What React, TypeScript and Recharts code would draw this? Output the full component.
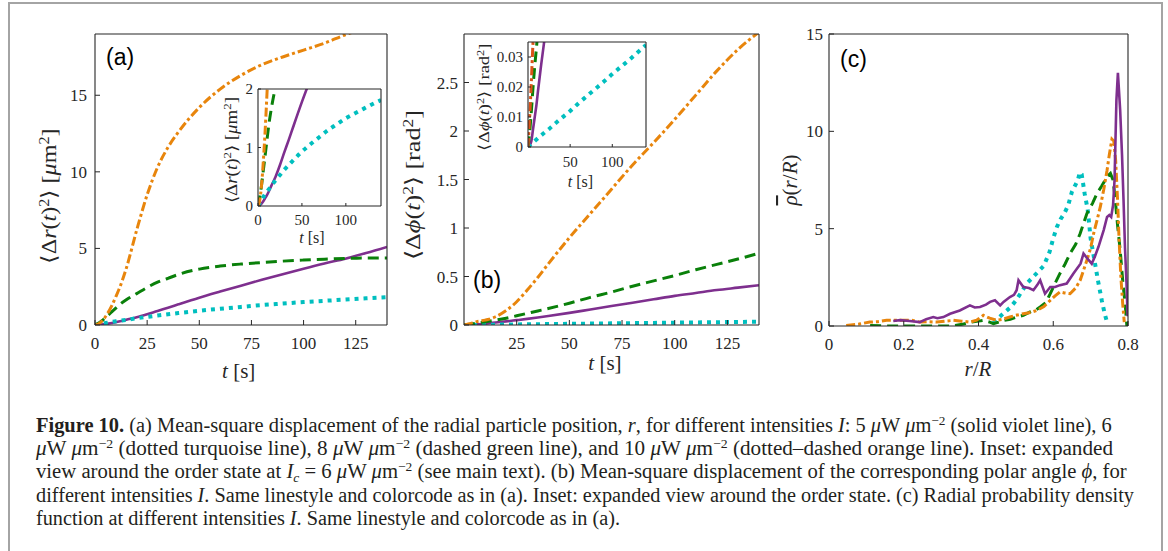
import React from 'react';
import { LineChart, Line, XAxis, YAxis, CartesianGrid } from 'recharts';

const SERIF = '"Liberation Serif", "Times New Roman", Times, serif';
const SANS = '"Liberation Sans", Arial, Helvetica, sans-serif';
const AX = '#262626';

const VIOLET = '#7E2F8E';
const TURQ = '#00BFBF';
const GREEN = '#0A800A';
const ORANGE = '#E8850C';
const RED_ORANGE = '#D95319';

// ---------- panel (a): radial MSD ----------
const tA = [0, 2, 4, 6, 8, 10, 12, 15, 20, 25, 30, 35, 40, 50, 60, 70, 80, 90, 100, 110, 120, 130, 140];
const msdR5 = [0, 0.01, 0.04, 0.08, 0.13, 0.18, 0.24, 0.34, 0.5, 0.7, 0.92, 1.13, 1.35, 1.78, 2.18, 2.57, 2.95, 3.32, 3.68, 4.02, 4.33, 4.7, 5.1];
const msdR6 = [0, 0.05, 0.1, 0.15, 0.2, 0.24, 0.28, 0.34, 0.44, 0.53, 0.62, 0.7, 0.78, 0.93, 1.06, 1.18, 1.3, 1.4, 1.5, 1.58, 1.66, 1.74, 1.81];
const msdR8 = [0, 0.15, 0.35, 0.6, 0.85, 1.1, 1.35, 1.65, 2.05, 2.45, 2.8, 3.05, 3.3, 3.65, 3.85, 3.98, 4.08, 4.17, 4.24, 4.3, 4.35, 4.37, 4.38];
const msdR10 = [0, 0.1, 0.35, 0.75, 1.25, 1.85, 2.5, 3.7, 6.2, 8.5, 10.3, 11.6, 12.6, 14.2, 15.4, 16.3, 17.0, 17.5, 17.95, 18.4, 18.95, 19.4, 19.8];

// ---------- panel (b): polar-angle MSD ----------
const tB = [0, 2, 4, 6, 8, 10, 12, 15, 20, 25, 30, 35, 40, 50, 60, 70, 80, 90, 100, 110, 120, 130, 140];
const msdPhi5 = [0, 0.0005, 0.002, 0.006, 0.01, 0.014, 0.019, 0.026, 0.037, 0.05, 0.063, 0.077, 0.092, 0.125, 0.16, 0.195, 0.23, 0.265, 0.3, 0.33, 0.36, 0.385, 0.41];
const msdPhi6 = [0, 0.0005, 0.001, 0.0015, 0.002, 0.0025, 0.003, 0.0037, 0.0049, 0.006, 0.0073, 0.0085, 0.0097, 0.012, 0.0146, 0.017, 0.0194, 0.0218, 0.0243, 0.0267, 0.029, 0.0315, 0.034];
const msdPhi8 = [0, 0.005, 0.012, 0.02, 0.027, 0.033, 0.04, 0.05, 0.07, 0.095, 0.12, 0.145, 0.17, 0.225, 0.285, 0.34, 0.4, 0.455, 0.51, 0.57, 0.625, 0.68, 0.74];
const msdPhi10 = [0, 0.01, 0.022, 0.035, 0.042, 0.05, 0.06, 0.085, 0.15, 0.24, 0.36, 0.49, 0.63, 0.9, 1.15, 1.4, 1.65, 1.88, 2.12, 2.37, 2.62, 2.84, 3.02];

// ---------- panel (c): radial probability density ----------
const rC5 = [0.172, 0.19, 0.216, 0.243, 0.26, 0.279, 0.29, 0.306, 0.324, 0.35, 0.377, 0.39, 0.404, 0.42, 0.431, 0.444, 0.458, 0.467, 0.484, 0.495, 0.502, 0.507, 0.52, 0.535, 0.547, 0.557, 0.565, 0.578, 0.592, 0.605, 0.618, 0.636, 0.654, 0.673, 0.681, 0.695, 0.703, 0.712, 0.721, 0.735, 0.744, 0.75, 0.755, 0.76, 0.764, 0.769, 0.773, 0.779, 0.784, 0.788, 0.792, 0.796, 0.799];
const rho5 = [0.26, 0.3, 0.26, 0.2, 0.35, 0.46, 0.4, 0.46, 0.63, 0.8, 1.06, 0.95, 0.98, 1.1, 1.24, 1.32, 1.06, 1.24, 1.49, 1.6, 1.84, 2.35, 2.0, 1.95, 1.84, 2.1, 2.35, 1.66, 2.0, 2.0, 2.1, 2.18, 2.7, 3.2, 3.72, 3.38, 3.2, 3.6, 4.07, 4.93, 5.6, 5.7, 5.6, 6.2, 7.5, 11.6, 13.0, 11.1, 8.8, 6.5, 4.0, 2.2, 0.5];
const rC6 = [0.44, 0.455, 0.47, 0.485, 0.5, 0.515, 0.53, 0.545, 0.56, 0.575, 0.59, 0.6, 0.61, 0.62, 0.63, 0.64, 0.65, 0.658, 0.666, 0.671, 0.676, 0.684, 0.692, 0.7, 0.71, 0.72, 0.73, 0.738, 0.744];
const rho6 = [0.15, 0.45, 0.7, 0.95, 1.3, 1.75, 2.2, 2.5, 2.8, 3.1, 3.8, 4.5, 5.1, 5.5, 5.8, 6.2, 6.9, 7.2, 7.5, 7.9, 7.8, 6.8, 6.0, 4.5, 3.4, 2.3, 1.3, 0.6, 0.2];
const rC8 = [0.11, 0.16, 0.2, 0.25, 0.3, 0.33, 0.36, 0.38, 0.4, 0.413, 0.43, 0.44, 0.455, 0.467, 0.485, 0.502, 0.52, 0.538, 0.555, 0.565, 0.58, 0.592, 0.605, 0.618, 0.632, 0.645, 0.66, 0.672, 0.69, 0.705, 0.717, 0.73, 0.744, 0.753, 0.76, 0.766, 0.772, 0.779, 0.786, 0.793, 0.797];
const rho8 = [0.03, 0.0, 0.0, 0.0, 0.0, 0.0, 0.1, 0.2, 0.25, 0.29, 0.2, 0.12, 0.2, 0.29, 0.35, 0.46, 0.55, 0.72, 0.85, 0.98, 1.2, 1.66, 2.2, 2.7, 3.2, 3.72, 4.2, 4.75, 5.78, 6.3, 6.81, 7.2, 7.67, 7.84, 7.5, 6.47, 5.2, 3.9, 2.3, 0.98, 0.0];
const rC10 = [0.046, 0.08, 0.109, 0.13, 0.154, 0.18, 0.198, 0.22, 0.243, 0.265, 0.288, 0.31, 0.333, 0.355, 0.377, 0.395, 0.413, 0.43, 0.449, 0.465, 0.484, 0.5, 0.52, 0.54, 0.556, 0.575, 0.592, 0.605, 0.618, 0.63, 0.645, 0.66, 0.672, 0.68, 0.69, 0.7, 0.708, 0.718, 0.726, 0.735, 0.744, 0.75, 0.757, 0.762, 0.767, 0.772, 0.776, 0.781, 0.786, 0.79];
const rho10 = [0.03, 0.1, 0.2, 0.22, 0.29, 0.3, 0.29, 0.3, 0.2, 0.22, 0.2, 0.25, 0.29, 0.25, 0.2, 0.3, 0.55, 0.4, 0.29, 0.35, 0.46, 0.55, 0.63, 0.7, 0.8, 1.0, 1.32, 1.55, 1.75, 1.7, 1.66, 1.95, 2.35, 2.8, 3.38, 4.0, 4.75, 5.5, 6.13, 7.0, 8.0, 8.8, 9.6, 9.5, 8.5, 6.5, 4.5, 2.5, 1.1, 0.2];

// ---------- ticks ----------
const ticksAx = [0, 25, 50, 75, 100, 125];
const ticksAy = [0, 5, 10, 15];
const ticksBx = [25, 50, 75, 100, 125];
const ticksBy = [0, 0.5, 1, 1.5, 2, 2.5];
const ticksCx = [0, 0.2, 0.4, 0.6, 0.8];
const ticksCy = [0, 5, 10, 15];
const ticksInsetAx = [0, 50, 100];
const ticksInsetAy = [0, 1, 2];
const ticksInsetBx = [50, 100];
const ticksInsetBy = [0, 0.01, 0.02, 0.03];

const pts = (xs: number[], ys: number[]) => xs.map((x, i) => ({ x, y: ys[i] }));

type Sty = { stroke: string; strokeWidth: number; strokeDasharray?: string };
const S_VIOLET: Sty = { stroke: VIOLET, strokeWidth: 2.6 };
const S_TURQ: Sty = { stroke: TURQ, strokeWidth: 4, strokeDasharray: '4 5' };
const S_GREEN: Sty = { stroke: GREEN, strokeWidth: 3, strokeDasharray: '11 6' };
const S_ORANGE: Sty = { stroke: ORANGE, strokeWidth: 3, strokeDasharray: '9 3 3 3' };

type Series = { data: { x: number; y: number }[]; sty: Sty };

type PanelProps = {
  left: number; top: number; plotW: number; plotH: number;
  yw: number; xh: number; mt: number; mr: number;
  xDomain: [number, number]; yDomain: [number, number];
  xTicks: number[]; yTicks: number[];
  series: Series[]; fs: number; xtm: number; ytm: number; ts: number;
  bg?: boolean; curve: 'monotone' | 'linear';
};

function Panel(p: PanelProps) {
  // mirrored top / right axes take 1px each (a 0-size axis is not drawn)
  const w = p.yw + p.plotW + p.mr + 1;
  const h = p.mt + p.plotH + p.xh;
  const tickStyle = { fill: AX, fontSize: p.fs, fontFamily: SERIF };
  const axisLine = { stroke: AX, strokeWidth: 1.1 };
  return (
    <div style={{ position: 'absolute', left: p.left - p.yw, top: p.top - p.mt }}>
      <LineChart width={w} height={h} margin={{ top: p.mt - 1, right: p.mr, bottom: 0, left: 0 }}>
        {p.bg ? <CartesianGrid fill="#ffffff" fillOpacity={1} horizontal={false} vertical={false} /> : null}
        <XAxis dataKey="x" type="number" domain={p.xDomain} ticks={p.xTicks} interval={0} allowDataOverflow
          height={p.xh} tickSize={-p.ts} tickMargin={p.xtm} stroke={AX} axisLine={axisLine} tick={tickStyle} />
        <XAxis xAxisId="top" orientation="top" dataKey="x" type="number" domain={p.xDomain} ticks={p.xTicks} interval={0}
          allowDataOverflow height={1} tickSize={-p.ts} tick={false} stroke={AX} axisLine={axisLine} />
        <YAxis type="number" domain={p.yDomain} ticks={p.yTicks} interval={0} allowDataOverflow
          width={p.yw} tickSize={-p.ts} tickMargin={p.ytm} stroke={AX} axisLine={axisLine} tick={tickStyle} />
        <YAxis yAxisId="right" orientation="right" type="number" domain={p.yDomain} ticks={p.yTicks} interval={0}
          allowDataOverflow width={1} tickSize={-p.ts} tick={false} stroke={AX} axisLine={axisLine} />
        {/* invisible carrier so the mirrored (top/right) box axes are registered */}
        <Line xAxisId="top" yAxisId="right" data={p.series[0].data} dataKey="y" stroke="none" strokeWidth={0}
          dot={false} activeDot={false} legendType="none" isAnimationActive={false} />
        {p.series.map((s, i) => (
          <Line key={i} data={s.data} dataKey="y" type={p.curve} stroke={s.sty.stroke}
            strokeWidth={s.sty.strokeWidth} strokeDasharray={s.sty.strokeDasharray}
            dot={false} activeDot={false} isAnimationActive={false} />
        ))}
      </LineChart>
    </div>
  );
}

const It = ({ c }: { c: string }) => <tspan fontStyle="italic">{c}</tspan>;
const Sup = ({ c, fs }: { c: string; fs: number }) => (
  <tspan baselineShift="super" fontSize={fs}>{c}</tspan>
);
const Unit = () => (
  <>
    <It c="μ" />W <It c="μ" />m<Sup c="−2" fs={13} />
  </>
);

export default function App() {
  const seriesA: Series[] = [
    { data: pts(tA, msdR5), sty: S_VIOLET },
    { data: pts(tA, msdR6), sty: S_TURQ },
    { data: pts(tA, msdR8), sty: S_GREEN },
    { data: pts(tA, msdR10), sty: S_ORANGE },
  ];
  const seriesB: Series[] = [
    { data: pts(tB, msdPhi5), sty: S_VIOLET },
    { data: pts(tB, msdPhi6), sty: S_TURQ },
    { data: pts(tB, msdPhi8), sty: S_GREEN },
    { data: pts(tB, msdPhi10), sty: S_ORANGE },
  ];
  const seriesBInset: Series[] = [
    { data: pts(tB, msdPhi5), sty: S_VIOLET },
    { data: pts(tB, msdPhi6), sty: S_TURQ },
    { data: pts(tB, msdPhi8), sty: S_GREEN },
    { data: pts(tB, msdPhi10), sty: { ...S_ORANGE, stroke: RED_ORANGE } },
  ];
  const seriesC: Series[] = [
    { data: pts(rC6, rho6), sty: S_TURQ },
    { data: pts(rC8, rho8), sty: S_GREEN },
    { data: pts(rC10, rho10), sty: S_ORANGE },
    { data: pts(rC5, rho5), sty: S_VIOLET },
  ];

  const capStyle = { fontFamily: SERIF, fontSize: 20, fill: '#231f20' } as const;

  return (
    <div style={{ position: 'absolute', left: 0, top: 0, width: 1168, height: 551, overflow: 'hidden', background: '#fff', fontFamily: SERIF }}>
      <div style={{ position: 'absolute', left: 8, top: 2, width: 1151, height: 600, border: '2px solid #a4a4a4' }} />

      <Panel left={95} top={34} plotW={292} plotH={291} yw={60} xh={30} mt={34} mr={5}
        xDomain={[0, 140]} yDomain={[0, 19]} xTicks={ticksAx} yTicks={ticksAy} series={seriesA}
        fs={17} xtm={17} ytm={13} ts={5} curve="monotone" />
      <Panel left={464} top={34} plotW={295} plotH={291} yw={60} xh={30} mt={34} mr={5}
        xDomain={[0, 140]} yDomain={[0, 3]} xTicks={ticksBx} yTicks={ticksBy} series={seriesB}
        fs={17} xtm={17} ytm={11} ts={5} curve="monotone" />
      <Panel left={829} top={34} plotW={299} plotH={292} yw={60} xh={30} mt={34} mr={25}
        xDomain={[0, 0.8]} yDomain={[0, 15]} xTicks={ticksCx} yTicks={ticksCy} series={seriesC}
        fs={17} xtm={17} ytm={11} ts={5} curve="linear" />

      <Panel left={258} top={89} plotW={123} plotH={117} yw={30} xh={28} mt={10} mr={4}
        xDomain={[0, 140]} yDomain={[0, 2]} xTicks={ticksInsetAx} yTicks={ticksInsetAy} series={seriesA}
        fs={15} xtm={11} ytm={8} ts={3} bg curve="monotone" />
      <Panel left={528} top={42} plotW={118} plotH={105} yw={48} xh={28} mt={10} mr={4}
        xDomain={[0, 140]} yDomain={[0, 0.035]} xTicks={ticksInsetBx} yTicks={ticksInsetBy} series={seriesBInset}
        fs={15} xtm={12} ytm={8} ts={3} bg curve="monotone" />

      <svg width={1168} height={551} style={{ position: 'absolute', left: 0, top: 0, pointerEvents: 'none' }}>
        <g fontFamily={SERIF} fill={AX}>
          {/* main y labels */}
          <text transform="translate(56,196) rotate(-90)" textAnchor="middle" fontSize={21} textLength={135} lengthAdjust="spacingAndGlyphs">
            ⟨Δ<It c="r" />(<It c="t" />)<Sup c="2" fs={14} />⟩ [<It c="μ" />m<Sup c="2" fs={14} />]
          </text>
          <text transform="translate(420,185) rotate(-90)" textAnchor="middle" fontSize={21} textLength={150} lengthAdjust="spacingAndGlyphs">
            ⟨Δ<It c="ϕ" />(<It c="t" />)<Sup c="2" fs={14} />⟩ [rad<Sup c="2" fs={14} />]
          </text>
          <text transform="translate(797,180) rotate(-90)" textAnchor="middle" fontSize={21}>
            <tspan fontStyle="italic" textDecoration="overline">ρ</tspan>(<It c="r" />/<It c="R" />)
          </text>
          {/* main x labels */}
          <text x={238.7} y={378} textAnchor="middle" fontSize={21}><It c="t" /> [s]</text>
          <text x={605} y={370} textAnchor="middle" fontSize={21}><It c="t" /> [s]</text>
          <text x={978} y={376} textAnchor="middle" fontSize={21}><It c="r" />/<It c="R" /></text>
          {/* inset labels */}
          <text transform="translate(237,150) rotate(-90)" textAnchor="middle" fontSize={16} textLength={106} lengthAdjust="spacingAndGlyphs">
            ⟨Δ<It c="r" />(<It c="t" />)<Sup c="2" fs={11} />⟩ [<It c="μ" />m<Sup c="2" fs={11} />]
          </text>
          <text x={312} y={243} textAnchor="middle" fontSize={16}><It c="t" /> [s]</text>
          <text transform="translate(489,97) rotate(-90)" textAnchor="middle" fontSize={15} textLength={107} lengthAdjust="spacingAndGlyphs">
            ⟨Δ<It c="ϕ" />(<It c="t" />)<Sup c="2" fs={10} />⟩ [rad<Sup c="2" fs={10} />]
          </text>
          <text x={580.5} y={187} textAnchor="middle" fontSize={16}><It c="t" /> [s]</text>
        </g>
        <g fontFamily={SANS} fontSize={23} fill="#000">
          <text x={106} y={65}>(a)</text>
          <text x={473} y={288}>(b)</text>
          <text x={840} y={67}>(c)</text>
        </g>
        <g style={capStyle}>
          <text x={36} y={431.7} textLength={1075.7} lengthAdjust="spacingAndGlyphs">
            <tspan fontWeight="bold">Figure 10.</tspan> (a) Mean-square displacement of the radial particle position, <It c="r" />, for different intensities <It c="I" />: 5 <Unit /> (solid violet line), 6
          </text>
          <text x={36} y={455} textLength={1077} lengthAdjust="spacingAndGlyphs">
            <Unit /> (dotted turquoise line), 8 <Unit /> (dashed green line), and 10 <Unit /> (dotted–dashed orange line). Inset: expanded
          </text>
          <text x={36} y={478.3} textLength={1090.7} lengthAdjust="spacingAndGlyphs">
            view around the order state at <It c="I" /><tspan fontSize={13} fontStyle="italic" dy={4}>c</tspan><tspan dy={-4}> = 6 </tspan><Unit /> (see main text). (b) Mean-square displacement of the corresponding polar angle <It c="ϕ" />, for
          </text>
          <text x={36} y={501.7} textLength={1098} lengthAdjust="spacingAndGlyphs">
            different intensities <It c="I" />. Same linestyle and colorcode as in (a). Inset: expanded view around the order state. (c) Radial probability density
          </text>
          <text x={36} y={525} textLength={584} lengthAdjust="spacingAndGlyphs">
            function at different intensities <It c="I" />. Same linestyle and colorcode as in (a).
          </text>
        </g>
      </svg>
    </div>
  );
}
